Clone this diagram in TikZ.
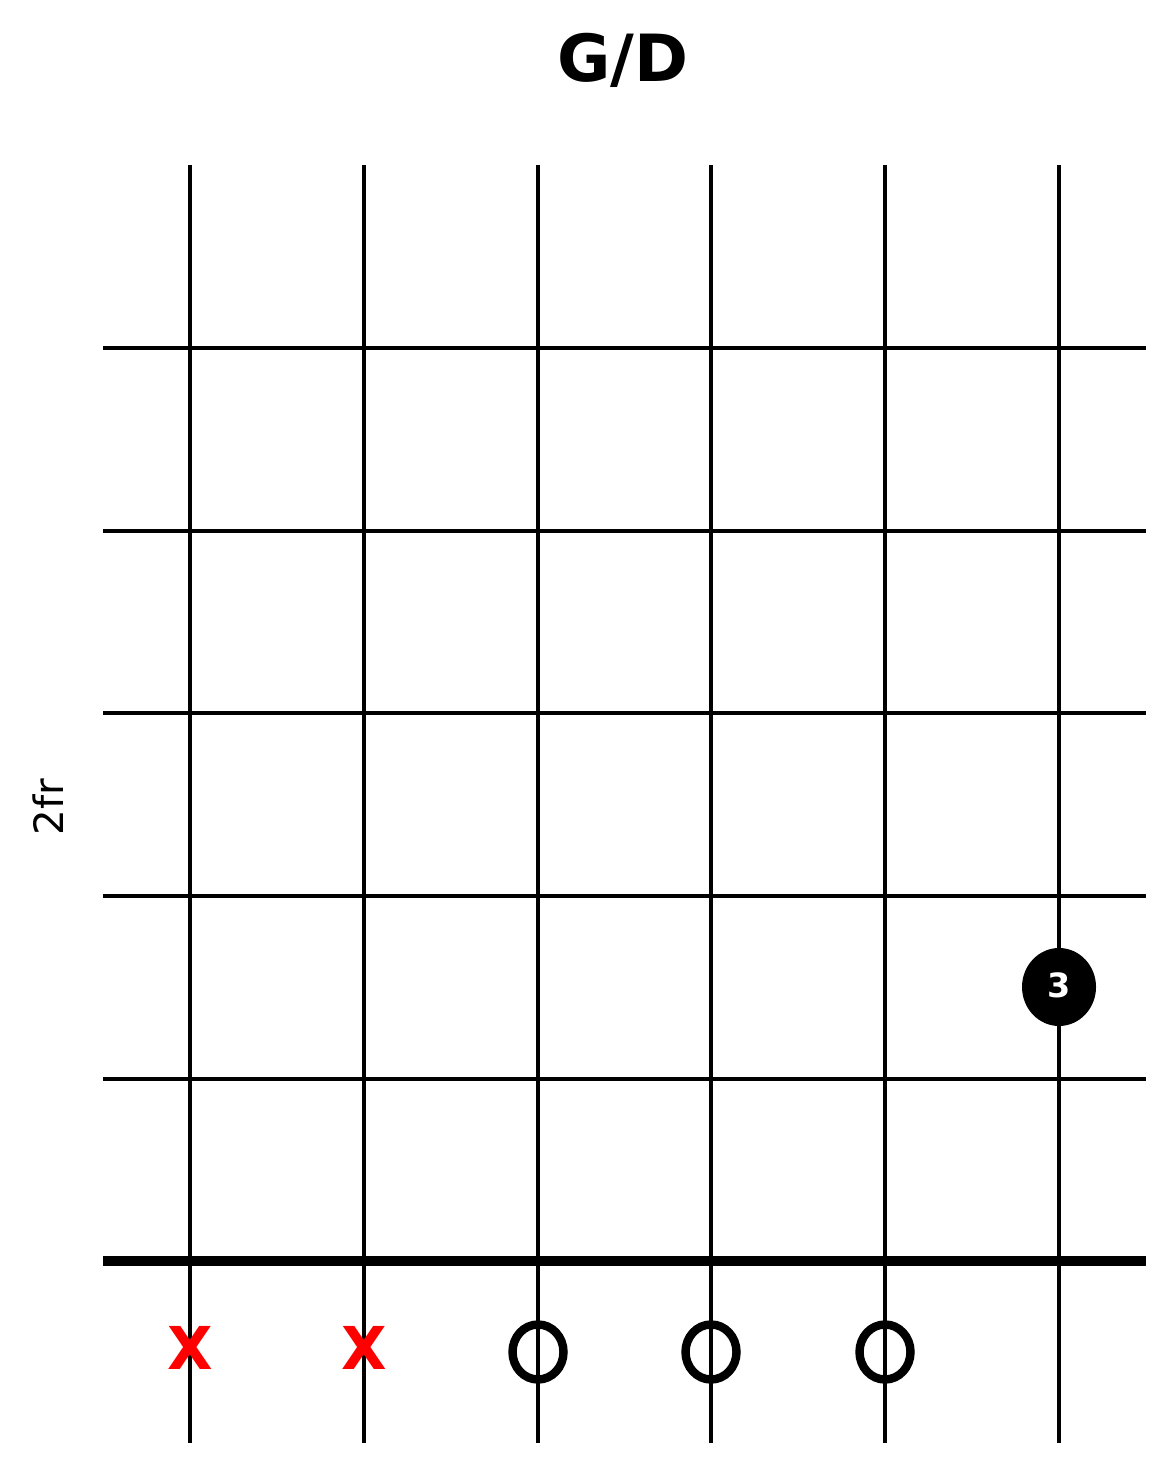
\documentclass[tikz,border=0pt]{standalone}
\usepackage{fontspec}
\setmainfont{DejaVu Sans}
\usepackage{xcolor}
\usetikzlibrary{positioning}

\begin{document}
\begin{tikzpicture}[x=0.01cm, y=-0.01cm,
  corde/.style={line width=1.05pt},
  sillet/.style={line width=3.1pt},
  vide/.style={line width=2.4pt},
  muet/.style={text=red, font=\bfseries\fontsize{16.8}{16.8}\selectfont, anchor=base, inner sep=0pt}]
  \useasboundingbox (0,0) rectangle (1175,1474);
  % Titre de l'accord
  \node[font=\bfseries\fontsize{18.5}{18.5}\selectfont, anchor=base, inner sep=0pt] (titre) at (623,82) {G/D};
  % Position (case)
  \node[font=\fontsize{11.5}{11.5}\selectfont, rotate=90, anchor=base, inner sep=0pt] (position) at (63,807) {2fr};
  % Cordes
  \foreach \x in {190,364,538,711,885,1059}{
    \draw[corde] (\x,165) -- (\x,1443);
  }
  % Frettes
  \foreach \y in {348,531,713,896,1079}{
    \draw[corde] (103,\y) -- (1146,\y);
  }
  % Sillet (bas)
  \draw[sillet] (103,1261) -- (1146,1261);
  % Doigt 3
  \fill (1059,987) ellipse [x radius=37, y radius=39];
  \node[text=white, font=\bfseries\fontsize{9.5}{9.5}\selectfont, anchor=base, inner sep=0pt] (doigt) at (1059,997) {3};
  % Cordes muettes
  \node[muet] (muet1) at (190,1369) {X};
  \node[muet] (muet2) at (364,1369) {X};
  % Cordes a vide
  \foreach \x in {538,711,885}{
    \draw[vide] (\x,1352) ellipse [x radius=25.5, y radius=27.5];
  }
\end{tikzpicture}
\end{document}
